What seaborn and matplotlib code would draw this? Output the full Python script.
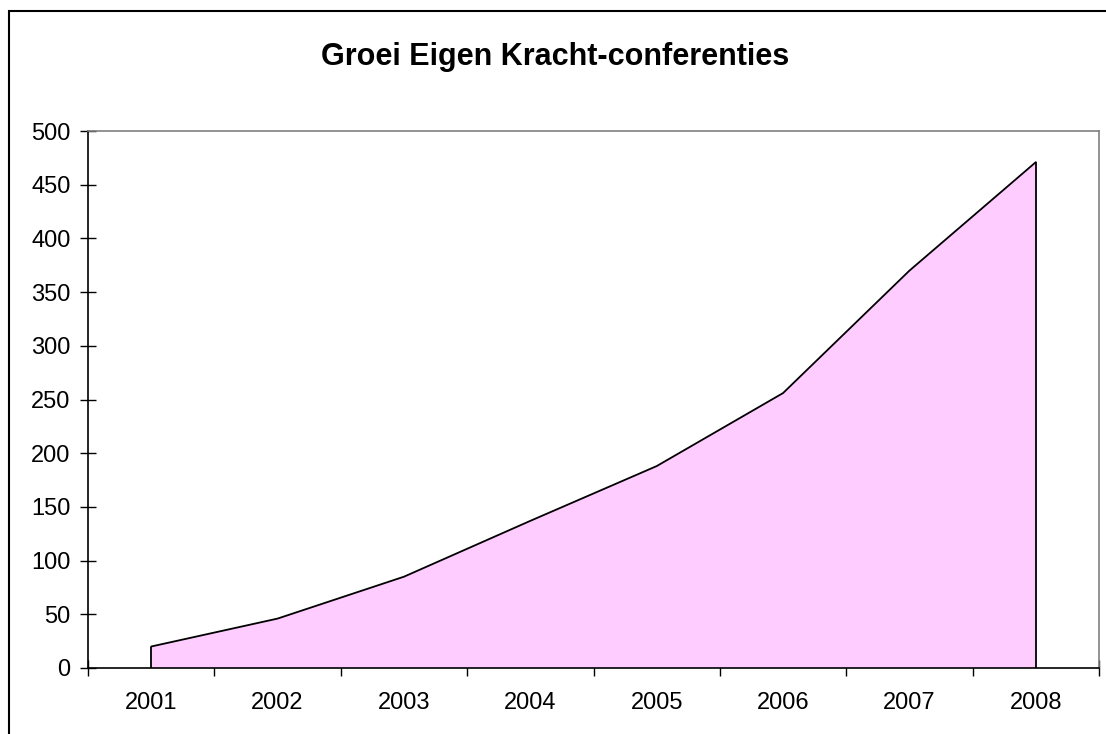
import matplotlib
matplotlib.use("Agg")
import matplotlib.pyplot as plt
from matplotlib.lines import Line2D
from matplotlib.ticker import FixedLocator, NullFormatter, FixedFormatter
import seaborn as sns
import numpy as np
import pandas as pd

years = ["2001", "2002", "2003", "2004", "2005", "2006", "2007", "2008"]
conferences = [20, 46, 85, 137, 188, 256, 370, 471]
yticks = [0, 50, 100, 150, 200, 250, 300, 350, 400, 450, 500]

sns.set_style("white")
plt.rcParams["font.family"] = ["Liberation Sans", "DejaVu Sans"]
plt.rcParams["text.color"] = "black"
plt.rcParams["xtick.color"] = "black"
plt.rcParams["ytick.color"] = "black"
plt.rcParams["xtick.labelcolor"] = "black"
plt.rcParams["ytick.labelcolor"] = "black"

W, H = 1106, 734
fig = plt.figure(figsize=(W / 100, H / 100), dpi=100)
ax = fig.add_axes([88 / W, (H - 668) / H, (1099 - 88) / W, (668 - 131) / H])

df = pd.DataFrame({"pos": np.arange(len(years)), "value": conferences})
ax.fill_between(df["pos"], df["value"], 0, facecolor="#FFCCFF", edgecolor="none", zorder=1)
sns.lineplot(data=df, x="pos", y="value", color="black", linewidth=1.3, ax=ax, zorder=3)
# vertical edges of the area at both ends
ax.vlines([df["pos"].iloc[0], df["pos"].iloc[-1]], 0,
          [df["value"].iloc[0], df["value"].iloc[-1]], color="black", linewidth=1.3, zorder=3)

ax.set_xlim(-0.5, len(years) - 0.5)
ax.set_ylim(0, 500)
ax.set_xlabel("")
ax.set_ylabel("")

ax.set_yticks(yticks)
ax.set_yticklabels([str(v) for v in yticks])
ax.tick_params(axis="y", which="major", direction="inout", length=11, width=1,
               color="black", labelcolor="black", labelsize=17, pad=7, left=True)

ax.xaxis.set_major_locator(FixedLocator(np.arange(-0.5, len(years), 1.0)))
ax.xaxis.set_major_formatter(NullFormatter())
ax.xaxis.set_minor_locator(FixedLocator(np.arange(len(years))))
ax.xaxis.set_minor_formatter(FixedFormatter(years))
ax.tick_params(axis="x", which="major", direction="inout", length=11, width=1,
               color="black", bottom=True)
ax.tick_params(axis="x", which="minor", length=0, labelsize=17, pad=17,
               labelcolor="black", bottom=True)

for side in ["left", "bottom"]:
    ax.spines[side].set_color("black")
    ax.spines[side].set_linewidth(1.2)
for side in ["top", "right"]:
    ax.spines[side].set_visible(True)
    ax.spines[side].set_color("#808080")
    ax.spines[side].set_linewidth(1.2)

fig.text(555 / W, 1 - 57 / H, "Groei Eigen Kracht-conferenties", ha="center", va="center",
         fontsize=22, fontweight="bold", color="black")

# outer chart border (only left and top edges are visible in the reference)
bx, by = 8.5 / W, 1 - 11 / H
fig.add_artist(Line2D([bx, bx, 1.0], [0.0, by, by], transform=fig.transFigure,
                      color="black", linewidth=1.5, solid_joinstyle="miter"))

fig.savefig("out.png", dpi=100, facecolor="white")
